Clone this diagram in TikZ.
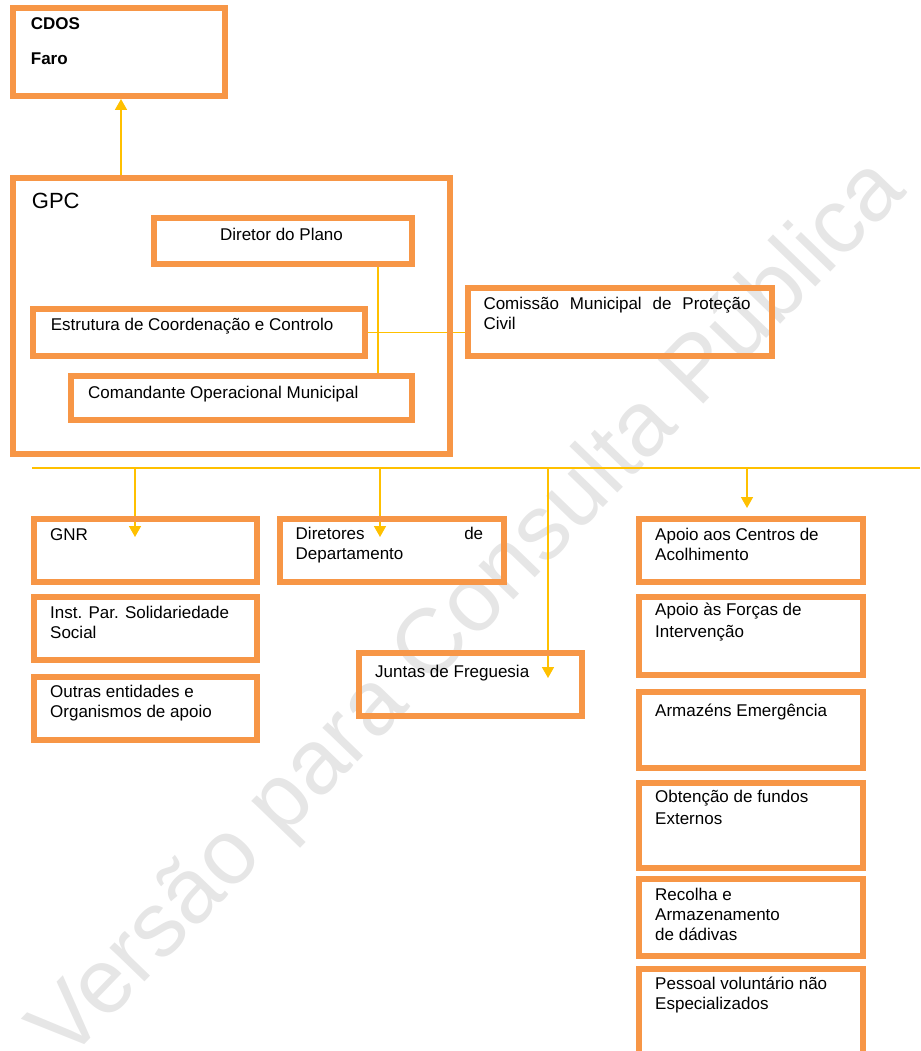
\documentclass[tikz,border=0pt]{standalone}
\usepackage{fontspec}
\setmainfont{Liberation Sans}
\usetikzlibrary{arrows.meta,backgrounds}
\definecolor{boxorange}{HTML}{F79646}
\definecolor{linkyellow}{HTML}{FFC000}
\definecolor{wmgray}{HTML}{E6E6E6}
\begin{document}
\begin{tikzpicture}[x=1pt,y=-1pt,
  orgbox/.style={draw=boxorange, line width=6pt, inner sep=0pt},
  boxtext/.style={anchor=north west, align=left, inner sep=0pt, font=\fontsize{17}{20}\selectfont, execute at begin node=\strut},
  link/.style={draw=linkyellow, line width=1.6pt},
  arr/.style={-{Triangle[length=11pt,width=12pt]}}]
\useasboundingbox (0,0) rectangle (920,1051);
\clip (0,0) rectangle (920,1051);

% top level
\node[orgbox, minimum width=212pt, minimum height=88pt] (cdos) at (119,52) {};
\node[orgbox, minimum width=437pt, minimum height=276pt] (gpc) at (231.5,316) {};
\node[orgbox, minimum width=258pt, minimum height=46pt] (plano) at (283,241) {};
\node[orgbox, minimum width=332pt, minimum height=47pt] (ecc) at (199,332.5) {};
\node[orgbox, minimum width=341pt, minimum height=44pt] (com) at (241.5,398) {};
\node[orgbox, minimum width=304pt, minimum height=68pt] (cmpc) at (620,322) {};

% left column and middle
\node[orgbox, minimum width=223pt, minimum height=63pt] (gnr) at (145.5,550.5) {};
\node[orgbox, minimum width=223pt, minimum height=63pt] (ipss) at (145.5,628.5) {};
\node[orgbox, minimum width=223pt, minimum height=63pt] (outras) at (145.5,708.5) {};
\node[orgbox, minimum width=224pt, minimum height=63pt] (dirdep) at (392,550.5) {};
\node[orgbox, minimum width=223pt, minimum height=63pt] (juntas) at (470.5,684.5) {};

% right column
\node[orgbox, minimum width=224pt, minimum height=63pt] (centros) at (751,550.5) {};
\node[orgbox, minimum width=224pt, minimum height=78pt] (forcas) at (751,636) {};
\node[orgbox, minimum width=224pt, minimum height=76pt] (armazens) at (751,730) {};
\node[orgbox, minimum width=224pt, minimum height=85pt] (fundos) at (751,825.5) {};
\node[orgbox, minimum width=224pt, minimum height=77pt] (dadivas) at (751,917.5) {};
\node[orgbox, minimum width=224pt, minimum height=101pt] (pessoal) at (751,1019.5) {};

% texts
\node[boxtext, font=\fontsize{17}{20}\selectfont\bfseries] (cdos-t) at ([shift={(20.7pt,-12.7pt)}]cdos.north west) {CDOS\\[15pt]Faro};
\node[boxtext, font=\fontsize{22}{26}\selectfont] (gpc-t) at ([shift={(21.7pt,-15.1pt)}]gpc.north west) {GPC};
\node[boxtext, anchor=base] (plano-t) at ([shift={(-1.5pt,-25pt)}]plano.north) {Diretor do Plano};
\node[boxtext] (ecc-t) at ([shift={(20.7pt,-10.7pt)}]ecc.north west) {Estrutura de Coordenação e Controlo};
\node[boxtext] (com-t) at ([shift={(20pt,-11.3pt)}]com.north west) {Comandante Operacional Municipal};
\node[boxtext] (cmpc-t) at ([shift={(18.3pt,-11.7pt)}]cmpc.north west) {\makebox[267pt][s]{Comissão Municipal de Proteção}\\Civil};
\node[boxtext] (gnr-t) at ([shift={(19pt,-10.7pt)}]gnr.north west) {GNR};
\node[boxtext] (ipss-t) at ([shift={(19pt,-11.5pt)}]ipss.north west) {Inst. Par. Solidariedade\\Social};
\node[boxtext] (outras-t) at ([shift={(19pt,-11pt)}]outras.north west) {Outras entidades e\\Organismos de apoio};
\node[boxtext] (dirdep-t) at ([shift={(18.5pt,-10.7pt)}]dirdep.north west) {\makebox[187.5pt][s]{Diretores de}\\Departamento};
\node[boxtext] (juntas-t) at ([shift={(19pt,-13pt)}]juntas.north west) {Juntas de Freguesia};
\node[boxtext] (centros-t) at ([shift={(19pt,-11.7pt)}]centros.north west) {Apoio aos Centros de\\Acolhimento};
\node[boxtext, font=\fontsize{17}{22}\selectfont] (forcas-t) at ([shift={(19pt,-8.6pt)}]forcas.north west) {Apoio às Forças de\\Intervenção};
\node[boxtext] (armazens-t) at ([shift={(19pt,-13.7pt)}]armazens.north west) {Armazéns Emergência};
\node[boxtext, font=\fontsize{17}{22}\selectfont] (fundos-t) at ([shift={(19pt,-9.6pt)}]fundos.north west) {Obtenção de fundos\\Externos};
\node[boxtext] (dadivas-t) at ([shift={(19pt,-11.7pt)}]dadivas.north west) {Recolha e\\Armazenamento\\de dádivas};
\node[boxtext] (pessoal-t) at ([shift={(19pt,-10.7pt)}]pessoal.north west) {Pessoal voluntário não\\Especializados};

\begin{scope}[on background layer]
% watermark
\node[rotate=46, anchor=base, inner sep=0pt, text=wmgray, font=\fontsize{92}{92}\selectfont] (marca) at (487,628) {Versão para Consulta Pública};

% links
\coordinate (up) at ([xshift=2pt]cdos.south);
\draw[link, arr] (up |- gpc.north) -- (up);
\coordinate (pv) at ([xshift=95pt]plano.south);
\draw[link] (pv) -- (pv |- com.north);
\draw[link] (ecc.east) -- (ecc.east -| cmpc.west);

\coordinate (busL) at (32,468);
\coordinate (busR) at (920,468);
\draw[link] (busL) -- (busR);
\coordinate (gnrTip) at ([shift={(-10.5pt,-21pt)}]gnr.north);
\coordinate (depTip) at ([shift={(-12pt,-21pt)}]dirdep.north);
\coordinate (jfTip) at ([shift={(77.5pt,-28pt)}]juntas.north);
\coordinate (acTip) at ([shift={(-4pt,8pt)}]centros.north);
\draw[link, arr] (gnrTip |- busL) -- (gnrTip);
\draw[link, arr] (depTip |- busL) -- (depTip);
\draw[link, arr] (jfTip |- busL) -- (jfTip);
\draw[link, arr] (acTip |- busL) -- (acTip);
\end{scope}
\end{tikzpicture}
\end{document}
